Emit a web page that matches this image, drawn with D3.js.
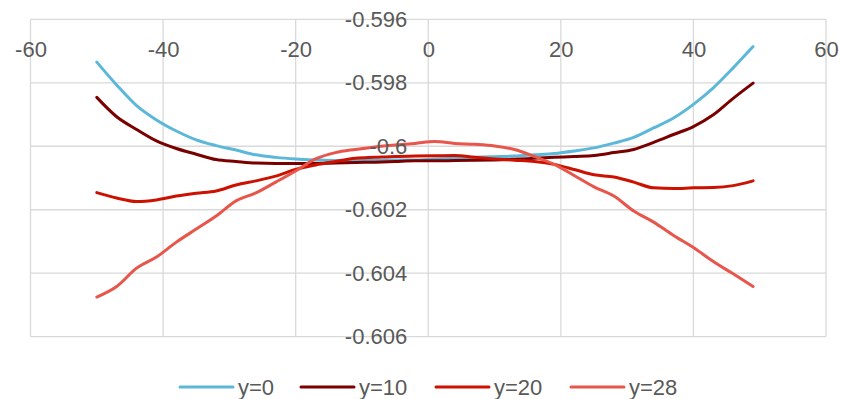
<!DOCTYPE html>
<html>
<head>
<meta charset="utf-8">
<script src="https://cdn.jsdelivr.net/npm/d3@7"></script>
<style>
  body { margin: 0; background: #fff; }
  svg { display: block; font-family: "Liberation Sans", Arial, sans-serif; }
</style>
</head>
<body>
<div id="app"></div>
<script>
const xs = [-50, -47, -44, -41, -38, -35, -32, -29, -26, -23, -20, -17, -14, -11, -8, -5, -2,
  1, 4, 7, 10, 13, 16, 19, 22, 25, 28, 31, 34, 37, 40, 43, 46, 49];

const y0 = [-0.59735, -0.59807, -0.59872, -0.59917, -0.59952, -0.59980, -0.59998, -0.60012,
  -0.60027, -0.60035, -0.60040, -0.60043, -0.60045, -0.60045, -0.60045, -0.60043, -0.60043,
  -0.60040, -0.60038, -0.60035, -0.60033, -0.60031, -0.60027, -0.60023, -0.60015, -0.60005,
  -0.59990, -0.59972, -0.59942, -0.59911, -0.59868, -0.59816, -0.59753, -0.59686];

const y10 = [-0.59846, -0.59907, -0.59947, -0.59983, -0.60007, -0.60025, -0.60042, -0.60048,
  -0.60053, -0.60054, -0.60054, -0.60054, -0.60053, -0.60051, -0.60050, -0.60048, -0.60046,
  -0.60046, -0.60045, -0.60044, -0.60043, -0.60041, -0.60038, -0.60035, -0.60032, -0.60029,
  -0.60020, -0.60010, -0.59988, -0.59963, -0.59938, -0.59901, -0.59849, -0.59801];

const y20 = [-0.60146, -0.60163, -0.60174, -0.60169, -0.60157, -0.60148, -0.60141, -0.60122,
  -0.60109, -0.60094, -0.60073, -0.60059, -0.60048, -0.60038, -0.60035, -0.60032, -0.60031,
  -0.60030, -0.60029, -0.60035, -0.60040, -0.60044, -0.60048, -0.60057, -0.60073, -0.60090,
  -0.60097, -0.60113, -0.60131, -0.60133, -0.60131, -0.60130, -0.60124, -0.60109];

const y28 = [-0.60475, -0.60442, -0.60384, -0.60349, -0.60302, -0.60261, -0.60220, -0.60172,
  -0.60147, -0.60113, -0.60078, -0.60040, -0.60020, -0.60010, -0.60002, -0.59996, -0.59991,
  -0.59985, -0.59991, -0.59994, -0.59999, -0.60010, -0.60032, -0.60057, -0.60092, -0.60128,
  -0.60157, -0.60204, -0.60239, -0.60281, -0.60319, -0.60363, -0.60402, -0.60442];

const seriesNames = ['y=0', 'y=10', 'y=20', 'y=28'];
const seriesColors = ['#5bb8d8', '#7a0000', '#cc1100', '#e8554a'];

const xTicks = [-60, -40, -20, 0, 20, 40, 60];
const yTicks = [-0.606, -0.604, -0.602, -0.6, -0.598, -0.596];
const yTickLabels = ['-0.606', '-0.604', '-0.602', '-0.6', '-0.598', '-0.596'];

const width = 841;
const height = 399;
const plot = { left: 30.5, right: 826, top: 19.3, bottom: 336.7 };
const fontSize = 22;
const textColor = '#595959';
const gridColor = '#d9d9d9';

const svg = d3.select('#app').append('svg')
  .attr('width', width)
  .attr('height', height);

const x = d3.scaleLinear().domain([-60, 60]).range([plot.left, plot.right]);
const y = d3.scaleLinear().domain([-0.606, -0.596]).range([plot.bottom, plot.top]);

// gridlines
const grid = svg.append('g').attr('stroke', gridColor).attr('stroke-width', 1.3);

grid.selectAll('line.h')
  .data(yTicks)
  .enter().append('line')
  .attr('x1', plot.left).attr('x2', plot.right)
  .attr('y1', d => y(d)).attr('y2', d => y(d));

grid.selectAll('line.v')
  .data(xTicks)
  .enter().append('line')
  .attr('x1', d => x(d)).attr('x2', d => x(d))
  .attr('y1', plot.top).attr('y2', plot.bottom);

// series
const line = d3.line()
  .x(d => x(d[0]))
  .y(d => y(d[1]))
  .curve(d3.curveMonotoneX);

const allSeries = [y0, y10, y20, y28];

svg.append('g')
  .selectAll('path')
  .data(allSeries)
  .enter().append('path')
  .attr('fill', 'none')
  .attr('stroke', (_, i) => seriesColors[i])
  .attr('stroke-width', 3)
  .attr('stroke-linejoin', 'round')
  .attr('stroke-linecap', 'round')
  .attr('d', vals => line(vals.map((v, i) => [xs[i], v])));

// x labels sit just under the top gridline
const xAxis = d3.axisBottom(x)
  .tickValues(xTicks)
  .tickFormat(d3.format('d'))
  .tickSize(0)
  .tickPadding(22);

svg.append('g')
  .attr('transform', `translate(0,${y(-0.596)})`)
  .call(xAxis)
  .call(g => g.select('.domain').remove())
  .selectAll('text')
  .attr('font-size', fontSize)
  .attr('font-family', '"Liberation Sans", Arial, sans-serif')
  .attr('fill', textColor)
  .text(d => String(d));

// y labels beside the x=0 line
const yAxis = d3.axisLeft(y)
  .tickValues(yTicks)
  .tickFormat((d, i) => yTickLabels[i])
  .tickSize(0)
  .tickPadding(21);

svg.append('g')
  .attr('transform', `translate(${x(0)},0)`)
  .call(yAxis)
  .call(g => g.select('.domain').remove())
  .selectAll('text')
  .attr('font-size', fontSize)
  .attr('font-family', '"Liberation Sans", Arial, sans-serif')
  .attr('fill', textColor);

// legend
const legendX = [180, 301, 436, 571];
const legendY = 387;

const legend = svg.append('g')
  .selectAll('g')
  .data(seriesNames)
  .enter().append('g')
  .attr('transform', (_, i) => `translate(${legendX[i]},${legendY})`);

legend.append('line')
  .attr('x1', 0).attr('x2', 53)
  .attr('stroke', (_, i) => seriesColors[i])
  .attr('stroke-width', 3)
  .attr('stroke-linecap', 'round');

legend.append('text')
  .attr('x', 58)
  .attr('dy', '0.35em')
  .attr('font-size', fontSize)
  .attr('fill', textColor)
  .text(d => d);
</script>
</body>
</html>
